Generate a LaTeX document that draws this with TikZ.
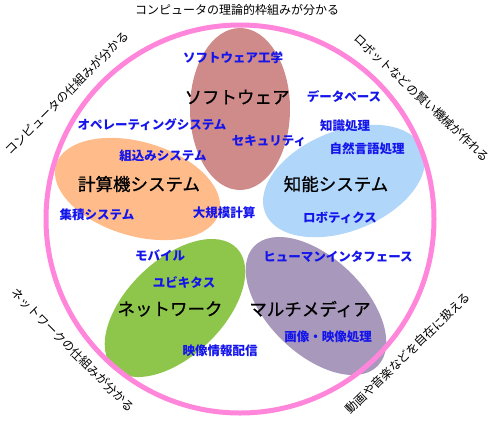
\documentclass[tikz,border=0pt]{standalone}
\usepackage{fontspec}
\newfontfamily\jp{Noto Sans CJK JP}
\newfontfamily\jpbig[FakeBold=0.8]{Noto Sans CJK JP}
\usetikzlibrary{shapes.geometric}
\definecolor{swc}{RGB}{207,138,138}
\definecolor{orc}{RGB}{255,188,138}
\definecolor{blc}{RGB}{176,214,250}
\definecolor{grc}{RGB}{142,198,76}
\definecolor{puc}{RGB}{168,152,188}
\definecolor{pkc}{RGB}{255,134,218}
\definecolor{lbl}{RGB}{20,20,235}
\begin{document}
\begin{tikzpicture}[x=1pt,y=-1pt,
  blob/.style={ellipse, inner sep=0pt, outer sep=0pt, draw=none},
  big/.style={font=\jpbig\fontsize{17.5}{20}\selectfont, text=black, inner sep=0pt},
  sub/.style={font=\jp\bfseries\fontsize{12.5}{14}\selectfont, text=lbl, inner sep=0pt},
  outer/.style={font=\jp\fontsize{12}{14}\selectfont, text=black, inner sep=0pt}]
\useasboundingbox (0,0) rectangle (500,424);
% ellipses
\node[blob, fill=swc, minimum width=100pt, minimum height=162pt] (sw) at (240,109) {};
\node[blob, fill=orc, minimum width=170pt, minimum height=94pt, rotate=-16.5] (cs) at (137.5,189) {};
\node[blob, fill=blc, minimum width=170pt, minimum height=100pt, rotate=22] (ks) at (344,181) {};
\node[blob, fill=grc, minimum width=172pt, minimum height=96pt, rotate=44] (nw) at (175,308) {};
\node[blob, fill=puc, minimum width=172pt, minimum height=96pt, rotate=-44] (mm) at (316,306) {};
% ring
\node[circle, draw=pkc, line width=5pt, minimum size=388pt, inner sep=0pt] (ring) at (240,219) {};
% big labels
\node[big] (t-sw) at (237,97) {ソフトウェア};
\node[big] (t-cs) at (139,184) {計算機システム};
\node[big] (t-ks) at (336,184) {知能システム};
\node[big] (t-nw) at (170,309) {ネットワーク};
\node[big] (t-mm) at (310,309) {マルチメディア};
% sub labels
\node[sub] (s1) at (233,58) {ソフトウェア工学};
\node[sub] (s2) at (344,97) {データベース};
\node[sub] (s3) at (152,125) {オペレーティングシステム};
\node[sub] (s4) at (345,126) {知識処理};
\node[sub] (s5) at (269,141) {セキュリティ};
\node[sub] (s6) at (163,156) {組込みシステム};
\node[sub] (s7) at (367,149) {自然言語処理};
\node[sub] (s8) at (97,215) {集積システム};
\node[sub] (s9) at (224,213) {大規模計算};
\node[sub] (s10) at (340,218) {ロボティクス};
\node[sub] (s11) at (160,256) {モバイル};
\node[sub] (s12) at (338,257) {ヒューマンインタフェース};
\node[sub] (s13) at (184,283) {ユビキタス};
\node[sub] (s14) at (328,337) {画像・映像処理};
\node[sub] (s15) at (220,351) {映像情報配信};
% outer labels
\node[outer] (o1) at (237,9.5) {コンピュータの理論的枠組みが分かる};
\node[outer, rotate=45] (o2) at (67,93) {コンピュータの仕組みが分かる};
\node[outer, rotate=-43] (o3) at (422,98) {ロボットなどの賢い機械が作れる};
\node[outer, rotate=-45] (o4) at (73,350) {ネットワークの仕組みが分かる};
\node[outer, rotate=44] (o5) at (408,353) {動画や音楽などを自在に扱える};
\end{tikzpicture}
\end{document}
